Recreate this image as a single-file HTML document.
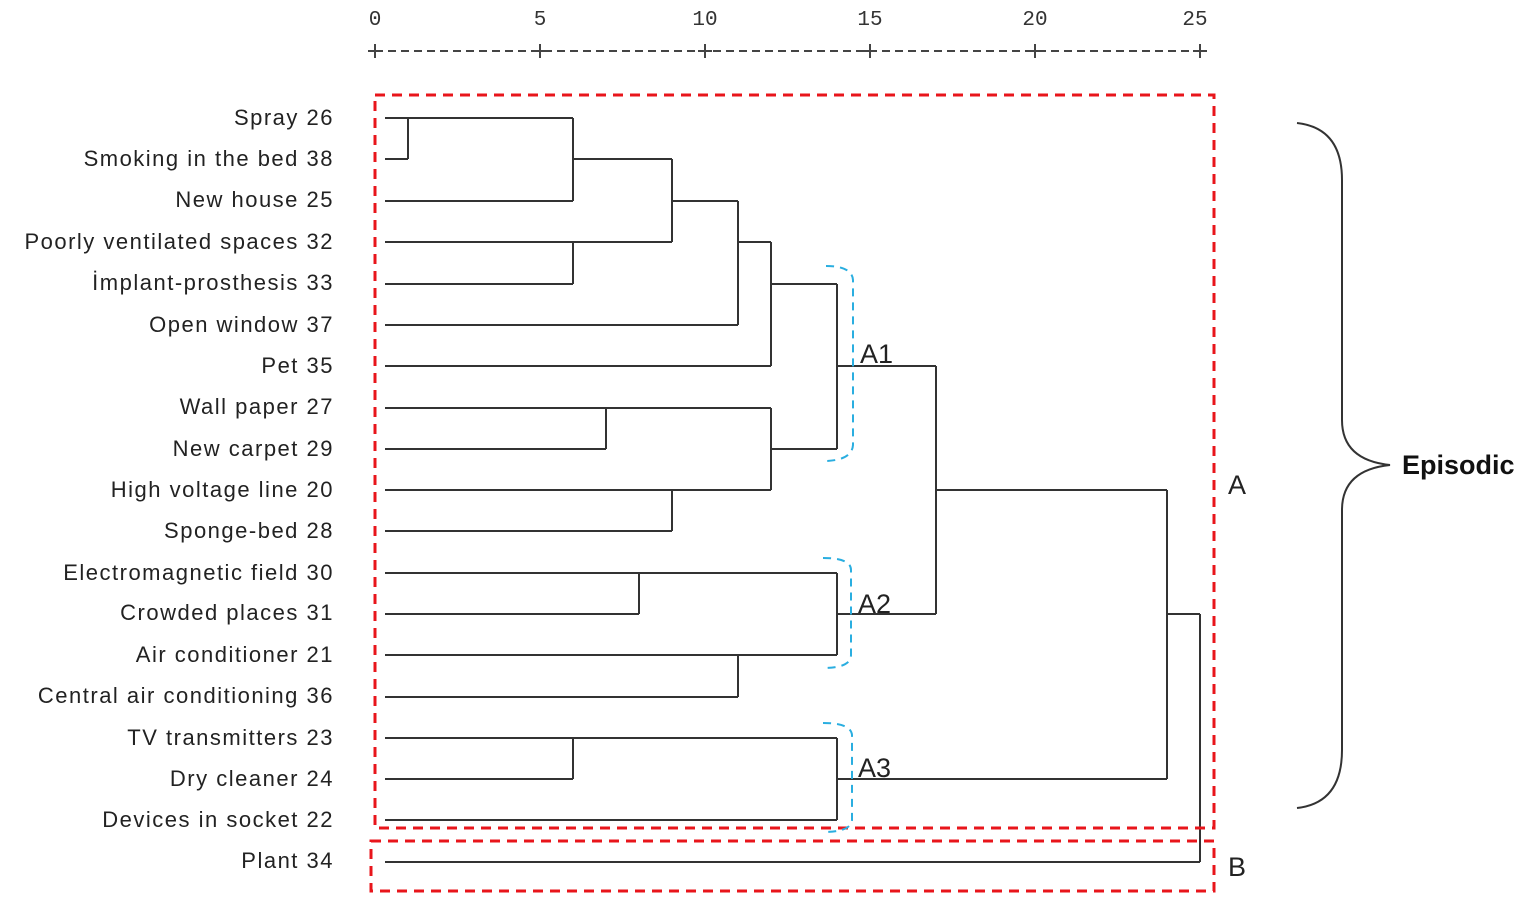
<!DOCTYPE html>
<html><head><meta charset="utf-8"><style>
html,body{margin:0;padding:0;background:#fff;}
svg{display:block;}
.lb{font-family:"Liberation Sans",sans-serif;font-size:22px;letter-spacing:1.5px;fill:#222;}
.ax{font-family:"Liberation Mono",monospace;font-size:21px;fill:#333;}
</style></head><body>
<svg width="1535" height="903" viewBox="0 0 1535 903" xmlns="http://www.w3.org/2000/svg">
<g class="ax" text-anchor="middle">
<text x="375" y="25">0</text><text x="540" y="25">5</text><text x="705" y="25">10</text>
<text x="870" y="25">15</text><text x="1035" y="25">20</text><text x="1195" y="25">25</text>
</g>
<line x1="375" y1="51" x2="1200" y2="51" stroke="#444" stroke-width="2" stroke-dasharray="8,5"/>
<g stroke="#444" stroke-width="2">
<line x1="375" y1="44" x2="375" y2="58"/><line x1="540" y1="44" x2="540" y2="58"/><line x1="705" y1="44" x2="705" y2="58"/>
<line x1="870" y1="44" x2="870" y2="58"/><line x1="1035" y1="44" x2="1035" y2="58"/><line x1="1200" y1="44" x2="1200" y2="58"/>
<line x1="368" y1="51" x2="382" y2="51"/><line x1="533" y1="51" x2="547" y2="51"/><line x1="698" y1="51" x2="712" y2="51"/>
<line x1="863" y1="51" x2="877" y2="51"/><line x1="1028" y1="51" x2="1042" y2="51"/><line x1="1193" y1="51" x2="1207" y2="51"/>
</g>
<g class="lb" text-anchor="end">
<text x="334" y="125">Spray 26</text>
<text x="334" y="166">Smoking in the bed 38</text>
<text x="334" y="207">New house 25</text>
<text x="334" y="249">Poorly ventilated spaces 32</text>
<text x="334" y="290">İmplant-prosthesis 33</text>
<text x="334" y="332">Open window 37</text>
<text x="334" y="373">Pet 35</text>
<text x="334" y="414">Wall paper 27</text>
<text x="334" y="456">New carpet 29</text>
<text x="334" y="497">High voltage line 20</text>
<text x="334" y="538">Sponge-bed 28</text>
<text x="334" y="580">Electromagnetic field 30</text>
<text x="334" y="620">Crowded places 31</text>
<text x="334" y="662">Air conditioner 21</text>
<text x="334" y="703">Central air conditioning 36</text>
<text x="334" y="745">TV transmitters 23</text>
<text x="334" y="786">Dry cleaner 24</text>
<text x="334" y="827">Devices in socket 22</text>
<text x="334" y="868">Plant 34</text>
</g>
<g stroke="#333" stroke-width="2" fill="none">
<path d="M385 118H573M385 159H408M408 118V159M573 118V201M385 201H573M573 159H672M672 159V242M385 242H672M385 284H573M573 242V284M672 201H738M738 201V325M385 325H738M738 242H771M771 242V366M385 366H771M771 284H837M837 284V449"/>
<path d="M385 408H771M385 449H606M606 408V449M771 408V490M385 490H771M385 531H672M672 490V531M771 449H837"/>
<path d="M837 366H936M936 366V614"/>
<path d="M385 573H837M385 614H639M639 573V614M837 573V655M385 655H837M385 697H738M738 655V697M837 614H936"/>
<path d="M936 490H1167M1167 490V779"/>
<path d="M385 738H837M385 779H573M573 738V779M837 738V820M385 820H837M837 779H1167"/>
<path d="M1167 614H1200M1200 614V862M385 862H1200"/>
</g>
<g stroke="#e8151b" stroke-width="3" fill="none" stroke-dasharray="10,7">
<rect x="375" y="95" width="839" height="733"/>
<rect x="371" y="841" width="843" height="50"/>
</g>
<g stroke="#2aaee0" stroke-width="2" fill="none" stroke-dasharray="8,6">
<path d="M826 266Q852 266 853 280V445Q852 460 826 461"/>
<path d="M823 558Q851 558 851 570V655Q851 668 823 668"/>
<path d="M823 723Q851 723 852 735V820Q851 832 823 832"/>
</g>
<g font-family="Liberation Sans,sans-serif" font-size="27" fill="#222">
<text x="860" y="363">A1</text><text x="858" y="613">A2</text><text x="858" y="777">A3</text>
<text x="1228" y="494">A</text><text x="1228" y="876">B</text>
</g>
<path d="M1297 123Q1342 128 1342 180V420Q1342 460 1390 465Q1342 470 1342 510V750Q1342 803 1297 808" stroke="#333" stroke-width="2" fill="none"/>
<text x="1402" y="474" font-family="Liberation Sans,sans-serif" font-size="27" font-weight="bold" fill="#111">Episodic</text>
</svg>
</body></html>
